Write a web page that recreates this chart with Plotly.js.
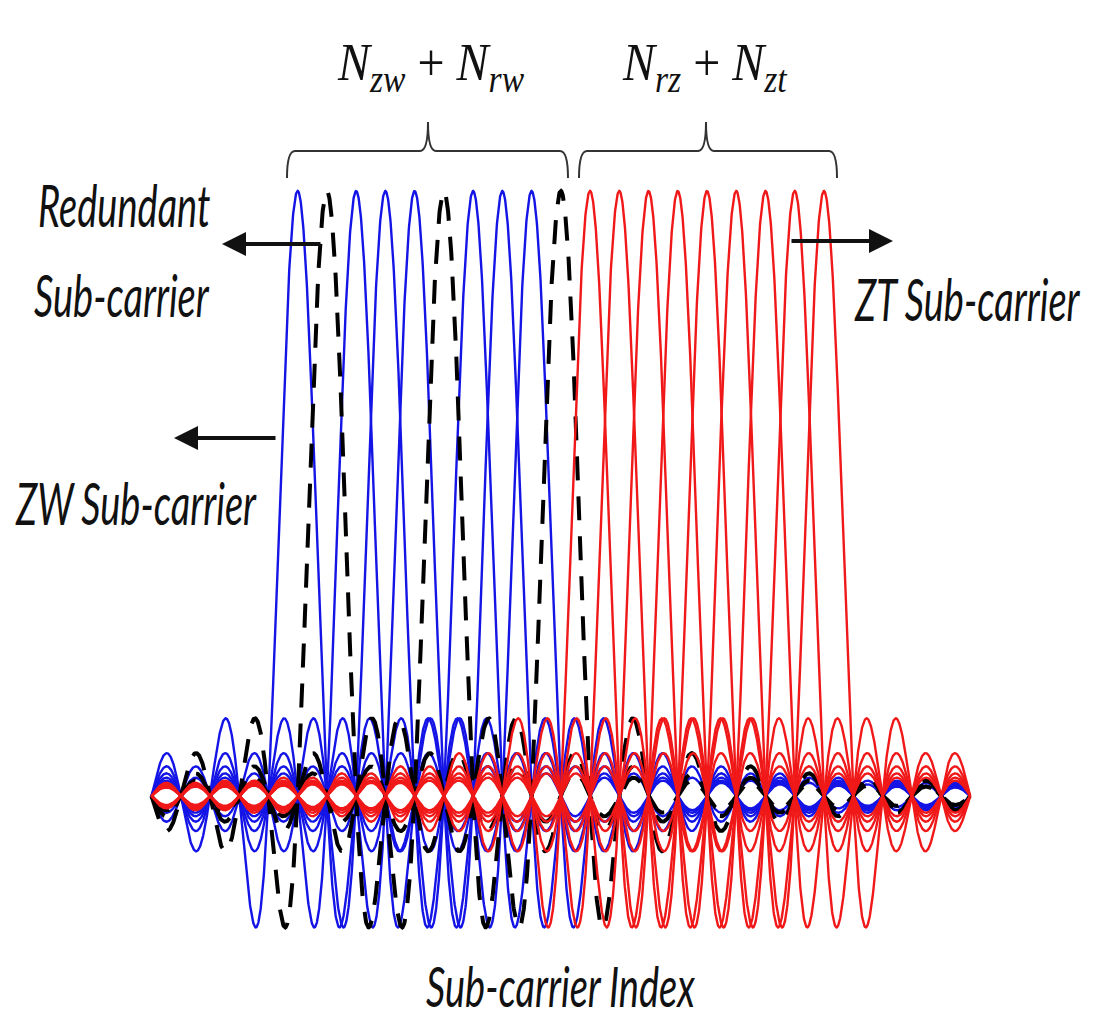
<!DOCTYPE html>
<html>
<head>
<meta charset="utf-8">
<script src="https://cdn.plot.ly/plotly-3.0.1.min.js"></script>
<style>
html,body{margin:0;padding:0;background:#fff;}
#chart{width:1095px;height:1023px;}
</style>
</head>
<body>
<div id="chart"></div>
<script>
// ---- data: sub-carrier indices by group ----
const zwCarriers = [0, 2, 3, 4, 6, 7, 8];            // blue solid
const redundantCarriers = [1, 5, 9];                 // black dashed
const ztCarriers = [10, 11, 12, 13, 14, 15, 16, 17, 18]; // red solid
const indexStart = -5;
const indexEnd = 23;

const leftBraceLabel = '<i>N</i><sub><i>zw</i></sub> + <i>N</i><sub><i>rw</i></sub>';
const rightBraceLabel = '<i>N</i><sub><i>rz</i></sub> + <i>N</i><sub><i>zt</i></sub>';
const labelRedundant1 = 'Redundant';
const labelRedundant2 = 'Sub-carrier';
const labelZW = 'ZW Sub-carrier';
const labelZT = 'ZT Sub-carrier';
const labelIndex = 'Sub-carrier Index';

const W = 1095, H = 1023;
const px = x => x / W;
const py = y => 1 - y / H;

// sub-carrier spectrum shape (sinc) sampled on the index axis
const step = 0.01;
const xs = [];
for (let i = 0; Math.round(indexStart / step) + i <= Math.round(indexEnd / step); i++) {
  xs.push(+(indexStart + i * step).toFixed(4));
}
function sinc(d) {
  if (Math.abs(d) < 1e-9) return 1;
  return Math.sin(Math.PI * d) / (Math.PI * d);
}
function carrierTrace(k, color, width, dash) {
  return {
    type: 'scatter', mode: 'lines',
    x: xs, y: xs.map(x => sinc(x - k)),
    line: {color: color, width: width, dash: dash || 'solid'},
    hoverinfo: 'skip', showlegend: false
  };
}
const traces = [];
zwCarriers.forEach(k => traces.push(carrierTrace(k, '#1414e6', 2.4)));
redundantCarriers.forEach(k => traces.push(carrierTrace(k, '#000000', 4, '24px,16px')));
ztCarriers.forEach(k => traces.push(carrierTrace(k, '#f01818', 2.4)));

function brace(x1, x2, xc, yLine, yEnd, yTip) {
  const r = 8;
  const P = (x, y) => px(x).toFixed(5) + ',' + py(y).toFixed(5);
  return 'M' + P(x1, yEnd) + ' Q' + P(x1, yLine) + ' ' + P(x1 + r, yLine) +
    ' L' + P(xc - r, yLine) + ' Q' + P(xc, yLine) + ' ' + P(xc, yTip) +
    ' Q' + P(xc, yLine) + ' ' + P(xc + r, yLine) +
    ' L' + P(x2 - r, yLine) + ' Q' + P(x2, yLine) + ' ' + P(x2, yEnd);
}

const sansFont = {family: 'Lato, "Open Sans", sans-serif', size: 38, color: '#111'};
const mathFont = {family: '"Liberation Serif", "DejaVu Serif", serif', size: 48, color: '#111'};

const textAnns = [
  {text: '<i>' + labelRedundant1 + '</i>', x: 124, y: 204, font: sansFont, sy: 1.55},
  {text: '<i>' + labelRedundant2 + '</i>', x: 122, y: 294, font: sansFont, sy: 1.55},
  {text: '<i>' + labelZW + '</i>', x: 136, y: 502, font: sansFont, sy: 1.55},
  {text: '<i>' + labelZT + '</i>', x: 967, y: 298, font: sansFont, sy: 1.55},
  {text: '<i>' + labelIndex + '</i>', x: 560, y: 985, font: sansFont, sy: 1.5},
  {text: leftBraceLabel, x: 431, y: 66, font: mathFont, sy: 1.12},
  {text: rightBraceLabel, x: 704, y: 66, font: mathFont, sy: 1.12}
];
const annotations = textAnns.map(a => ({
  text: a.text, xref: 'paper', yref: 'paper', x: px(a.x), y: py(a.y),
  xanchor: 'center', yanchor: 'middle', showarrow: false, font: a.font
}));
const arrows = [
  {x: 222, y: 244, ax: 100},
  {x: 174, y: 438, ax: 103},
  {x: 893, y: 241, ax: -103}
];
arrows.forEach(a => annotations.push({
  text: '', xref: 'paper', yref: 'paper', x: px(a.x), y: py(a.y),
  ax: a.ax, ay: 0, showarrow: true, arrowhead: 2, arrowsize: 1.2,
  arrowwidth: 4, arrowcolor: '#111', standoff: 0
}));

const layout = {
  width: W, height: H,
  margin: {l: 0, r: 0, t: 0, b: 0},
  paper_bgcolor: '#ffffff', plot_bgcolor: '#ffffff',
  xaxis: {range: [-10.18, 27.27], visible: false, fixedrange: true},
  yaxis: {range: [-0.3752, 1.3157], visible: false, fixedrange: true},
  showlegend: false,
  annotations: annotations,
  shapes: [
    {type: 'path', xref: 'paper', yref: 'paper', path: brace(287, 568, 428, 151, 178, 122), line: {color: '#333', width: 2}},
    {type: 'path', xref: 'paper', yref: 'paper', path: brace(579, 837, 706, 151, 178, 122), line: {color: '#333', width: 2}}
  ]
};

Plotly.newPlot('chart', traces, layout, {staticPlot: true, displayModeBar: false}).then(gd => {
  textAnns.forEach((a, i) => {
    if (a.sy === 1) return;
    const t = gd.querySelector('.annotation[data-index="' + i + '"] .annotation-text');
    if (t) {
      t.style.transformBox = 'fill-box';
      t.style.transformOrigin = 'center';
      t.style.transform = 'scale(1,' + a.sy + ')';
    }
  });
});
</script>
</body>
</html>
